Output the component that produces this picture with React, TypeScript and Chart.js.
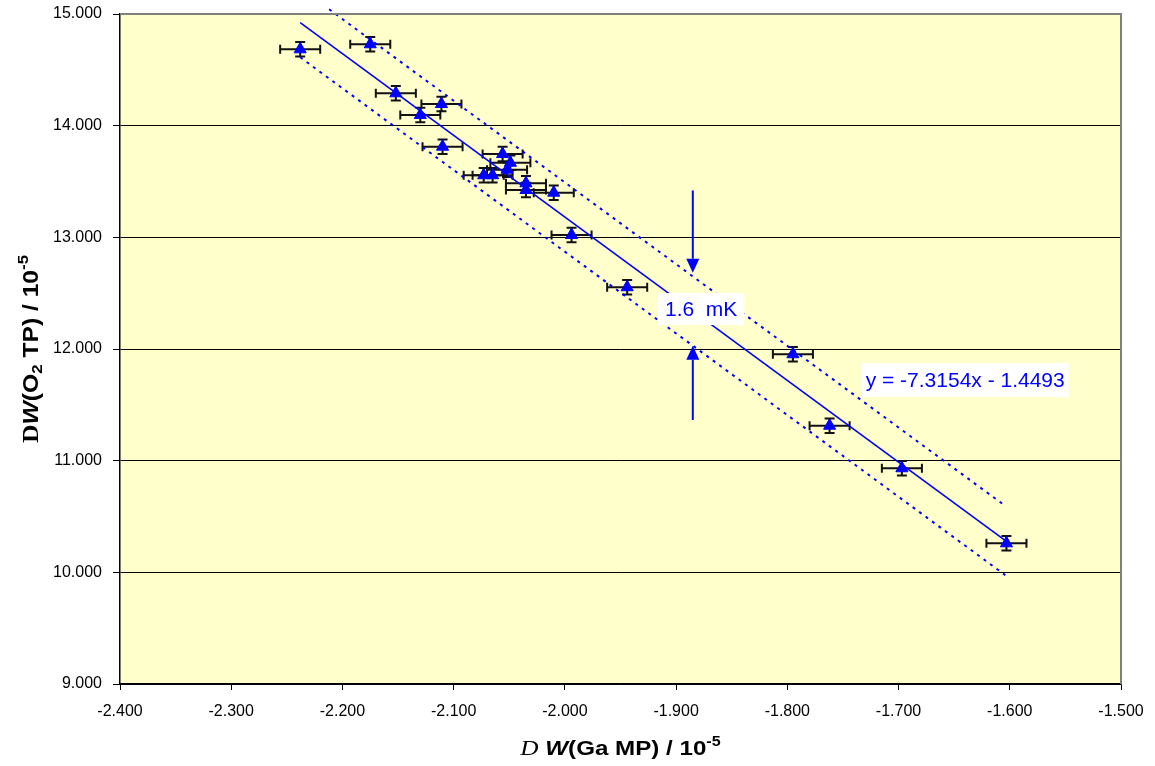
import React, { useEffect, useRef } from "react";
import { Chart, registerables } from "chart.js";

Chart.register(...registerables);

// ---- Data ----
const gaMP: number[] = [
  -2.238, -2.175, -2.152, -2.111, -2.130, -2.110, -2.056, -2.049, -2.052, -2.073,
  -2.065, -2.035, -2.035, -2.010, -1.994, -1.944, -1.795, -1.762, -1.697, -1.603,
];
const o2TP: number[] = [
  14.684, 14.729, 14.290, 14.194, 14.096, 13.812, 13.746, 13.668, 13.606, 13.556,
  13.556, 13.484, 13.424, 13.400, 13.021, 12.553, 11.953, 11.313, 10.932, 10.260,
];
const gaErrHalf = 0.018; // horizontal error bar half-width
const o2ErrHalf = 0.065; // vertical error bar half-height

// Linear trend line shown on the chart: y = -7.3154x - 1.4493
const trendSlope = -7.3154;
const trendIntercept = -1.4493;
const trendX: number[] = [-2.238, -1.603];
// Dotted band lines (parallel to the trend)
const bandOffset = 0.31;
const upperBandX: number[] = [-2.212, -1.604];
const lowerBandX: number[] = [-2.238, -1.604];
// Arrows marking the band width
const arrowX = -1.885;
const upperArrowY: number[] = [13.42, 12.683]; // tail, tip
const lowerArrowY: number[] = [11.364, 12.03]; // tail, tip

const xTicks = { min: -2.4, max: -1.5, step: 0.1 };
const yTicks = { min: 9, max: 15, step: 1 };

const bandLabel = "1.6  mK";
const eqLabel = "y = -7.3154x - 1.4493";

const BLUE = "#0000FF";
const SANS = '"Liberation Sans", Arial, sans-serif';
const SERIF = '"Liberation Serif", "Times New Roman", serif';

type Part = { t: string; font: string; dy?: number; w?: number };

function drawRich(ctx: CanvasRenderingContext2D, parts: Part[], cx: number, baseline: number, stretch = 1) {
  let total = 0;
  parts.forEach((p) => {
    ctx.font = p.font;
    p.w = ctx.measureText(p.t).width;
    total += p.w;
  });
  ctx.save();
  ctx.translate(cx, baseline);
  ctx.scale(stretch, 1);
  let x = -total / 2;
  ctx.textBaseline = "alphabetic";
  ctx.textAlign = "left";
  parts.forEach((p) => {
    ctx.font = p.font;
    ctx.fillText(p.t, x, p.dy || 0);
    x += p.w || 0;
  });
  ctx.restore();
}

const decor = {
  id: "decor",
  beforeDraw(chart: any) {
    const { ctx, chartArea: a } = chart;
    ctx.save();
    ctx.fillStyle = "#FFFFCC";
    ctx.fillRect(a.left, a.top, a.right - a.left, a.bottom - a.top);
    ctx.restore();
  },
  beforeDatasetsDraw(chart: any) {
    const { ctx } = chart;
    const xs = chart.scales.x;
    const ys = chart.scales.y;
    ctx.save();
    ctx.strokeStyle = "#111";
    ctx.lineWidth = 2;
    for (let i = 0; i < gaMP.length; i++) {
      const px = xs.getPixelForValue(gaMP[i]);
      const py = ys.getPixelForValue(o2TP[i]);
      const x1 = xs.getPixelForValue(gaMP[i] - gaErrHalf);
      const x2 = xs.getPixelForValue(gaMP[i] + gaErrHalf);
      const y1 = ys.getPixelForValue(o2TP[i] + o2ErrHalf);
      const y2 = ys.getPixelForValue(o2TP[i] - o2ErrHalf);
      ctx.beginPath();
      ctx.moveTo(x1, py);
      ctx.lineTo(x2, py);
      ctx.moveTo(x1, py - 4.5);
      ctx.lineTo(x1, py + 4.5);
      ctx.moveTo(x2, py - 4.5);
      ctx.lineTo(x2, py + 4.5);
      ctx.moveTo(px, y1);
      ctx.lineTo(px, y2);
      ctx.moveTo(px - 5, y1);
      ctx.lineTo(px + 5, y1);
      ctx.moveTo(px - 5, y2);
      ctx.lineTo(px + 5, y2);
      ctx.stroke();
    }
    ctx.restore();
  },
  afterDatasetsDraw(chart: any) {
    const { ctx, chartArea: a } = chart;
    const xs = chart.scales.x;
    const ys = chart.scales.y;
    ctx.save();
    // gray frame on top and right
    ctx.strokeStyle = "#808080";
    ctx.lineWidth = 2;
    ctx.beginPath();
    ctx.moveTo(a.left, a.top);
    ctx.lineTo(a.right, a.top);
    ctx.lineTo(a.right, a.bottom);
    ctx.stroke();

    // labels with white boxes
    ctx.font = `21px ${SANS}`;
    ctx.textAlign = "center";
    ctx.textBaseline = "middle";
    const label = (txt: string, vx: number, vy: number, padX: number, h: number) => {
      const cx = xs.getPixelForValue(vx);
      const cy = ys.getPixelForValue(vy);
      const w = ctx.measureText(txt).width + padX * 2;
      ctx.fillStyle = "#FFFFFF";
      ctx.fillRect(cx - w / 2, cy - h / 2, w, h);
      ctx.fillStyle = BLUE;
      ctx.fillText(txt, cx, cy + 1);
    };
    label(bandLabel, -1.8775, 12.358, 7, 32);
    label(eqLabel, -1.6401, 11.722, 4, 34);

    // arrows
    const arrow = (vx: number, tailV: number, tipV: number) => {
      const x = xs.getPixelForValue(vx);
      const tail = ys.getPixelForValue(tailV);
      const tip = ys.getPixelForValue(tipV);
      const dir = tip > tail ? 1 : -1;
      const headLen = 14;
      const headHalf = 6.5;
      ctx.strokeStyle = BLUE;
      ctx.fillStyle = BLUE;
      ctx.lineWidth = 2;
      ctx.beginPath();
      ctx.moveTo(x, tail);
      ctx.lineTo(x, tip - dir * headLen);
      ctx.stroke();
      ctx.beginPath();
      ctx.moveTo(x, tip);
      ctx.lineTo(x - headHalf, tip - dir * headLen);
      ctx.lineTo(x + headHalf, tip - dir * headLen);
      ctx.closePath();
      ctx.fill();
    };
    arrow(arrowX, upperArrowY[0], upperArrowY[1]);
    arrow(arrowX, lowerArrowY[0], lowerArrowY[1]);
    ctx.restore();
  },
  afterDraw(chart: any) {
    const { ctx, chartArea: a } = chart;
    ctx.save();
    ctx.fillStyle = "#000";
    // X axis title
    drawRich(
      ctx,
      [
        { t: "D", font: `italic 22px ${SERIF}` },
        { t: " ", font: `bold 21px ${SANS}` },
        { t: "W", font: `italic bold 21px ${SANS}` },
        { t: "(Ga MP) / 10", font: `bold 21px ${SANS}` },
        { t: "-5", font: `bold 14px ${SANS}`, dy: -9 },
      ],
      (a.left + a.right) / 2,
      755,
      1.15
    );
    // Y axis title (rotated)
    ctx.save();
    ctx.translate(38, (a.top + a.bottom) / 2);
    ctx.rotate(-Math.PI / 2);
    drawRich(
      ctx,
      [
        { t: "D", font: `bold 23px ${SERIF}` },
        { t: "W", font: `italic bold 22px ${SANS}` },
        { t: "(O", font: `bold 22px ${SANS}` },
        { t: "2", font: `bold 15px ${SANS}`, dy: 4 },
        { t: " TP) / 10", font: `bold 22px ${SANS}` },
        { t: "-5", font: `bold 15px ${SANS}`, dy: -10 },
      ],
      0,
      0,
      1.12
    );
    ctx.restore();
    ctx.restore();
  },
};

export default function App() {
  const ref = useRef<HTMLCanvasElement>(null);
  useEffect(() => {
    if (!ref.current) return;
    const points = gaMP.map((x, i) => ({ x, y: o2TP[i] }));
    const line = (xsArr: number[], off: number) =>
      xsArr.map((x) => ({ x, y: trendSlope * x + trendIntercept + off }));
    const chart = new Chart(ref.current, {
      type: "scatter",
      data: {
        datasets: [
          {
            label: "data",
            data: points,
            pointStyle: "triangle",
            pointRadius: 7,
            pointBackgroundColor: BLUE,
            pointBorderColor: BLUE,
            pointBorderWidth: 1,
            showLine: false,
          },
          {
            label: "trend",
            data: line(trendX, 0),
            showLine: true,
            borderColor: BLUE,
            borderWidth: 1.6,
            pointRadius: 0,
          },
          {
            label: "upper",
            data: line(upperBandX, bandOffset),
            showLine: true,
            borderColor: BLUE,
            borderWidth: 2,
            borderDash: [3, 5],
            pointRadius: 0,
            clip: false,
          },
          {
            label: "lower",
            data: line(lowerBandX, -bandOffset),
            showLine: true,
            borderColor: BLUE,
            borderWidth: 2,
            borderDash: [3, 5],
            pointRadius: 0,
          },
        ],
      } as any,
      options: {
        responsive: false,
        animation: false,
        devicePixelRatio: 1,
        layout: { padding: { top: 14, right: 34, left: 0, bottom: 0 } },
        plugins: {
          legend: { display: false },
          tooltip: { enabled: false },
          title: { display: false },
        },
        font: { family: SANS },
        scales: {
          x: {
            type: "linear",
            min: xTicks.min,
            max: xTicks.max,
            ticks: {
              stepSize: xTicks.step,
              callback: (v: any) => Number(v).toFixed(3),
              color: "#000",
              font: { size: 16, family: SANS },
              padding: 12,
              maxRotation: 0,
              autoSkip: false,
            },
            grid: { drawOnChartArea: false, drawTicks: true, tickLength: 6, color: "#000", lineWidth: 1 },
            border: { color: "#000", width: 1.5 },
            afterFit: (s: any) => {
              s.height = 82;
              s.paddingLeft = 0;
              s.paddingRight = 0;
            },
          },
          y: {
            type: "linear",
            min: yTicks.min,
            max: yTicks.max,
            ticks: {
              stepSize: yTicks.step,
              callback: (v: any) => Number(v).toFixed(3),
              color: "#000",
              font: { size: 16, family: SANS },
              padding: 11,
            },
            grid: { drawTicks: true, tickLength: 7, color: "#000", lineWidth: 1 },
            border: { color: "#000", width: 1.5 },
            afterFit: (s: any) => {
              s.width = 120;
              s.paddingTop = 0;
              s.paddingBottom = 0;
            },
          },
        },
      } as any,
      plugins: [decor],
    });
    return () => chart.destroy();
  }, []);
  return (
    <canvas
      ref={ref}
      width={1155}
      height={766}
      style={{ position: "absolute", left: 0, top: 0, display: "block", width: 1155, height: 766 }}
    />
  );
}
